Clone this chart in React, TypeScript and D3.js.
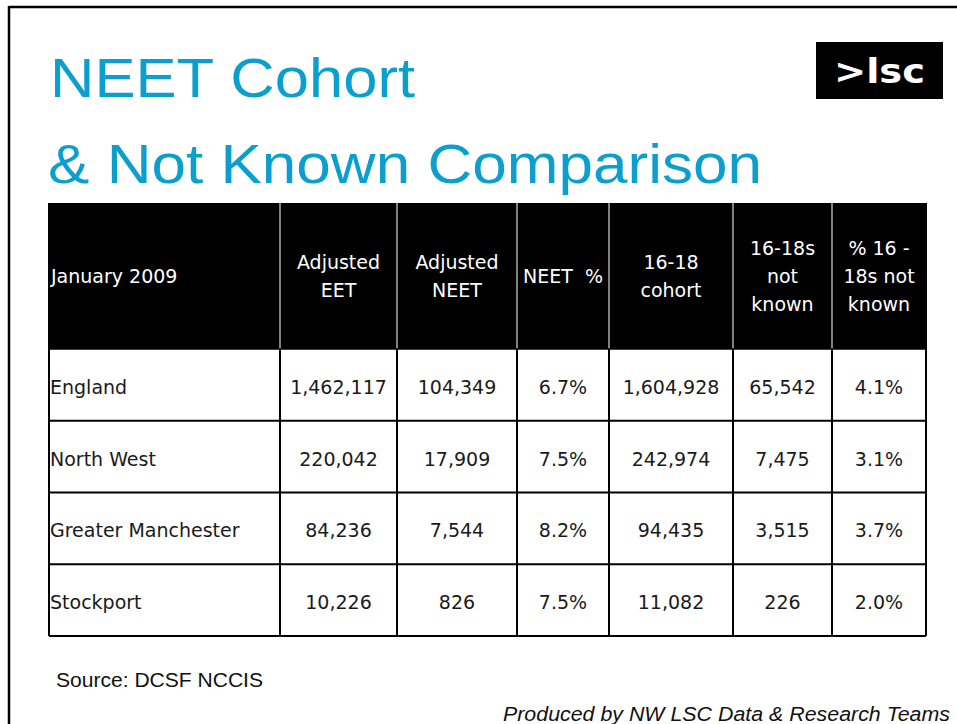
import React from "react";
import * as d3 from "d3";

const titleLines = ["NEET Cohort", "& Not Known Comparison"];
const logoText = ">lsc";
const headerLabels: string[][] = [
  ["January 2009"],
  ["Adjusted", "EET"],
  ["Adjusted", "NEET"],
  ["NEET  %"],
  ["16-18", "cohort"],
  ["16-18s", "not", "known"],
  ["% 16 -", "18s not", "known"],
];
const regions = ["England", "North West", "Greater Manchester", "Stockport"];
const adjustedEET = [1462117, 220042, 84236, 10226];
const adjustedNEET = [104349, 17909, 7544, 826];
const neetPct = [6.7, 7.5, 8.2, 7.5];
const cohort = [1604928, 242974, 94435, 11082];
const notKnown = [65542, 7475, 3515, 226];
const pctNotKnown = [4.1, 3.1, 3.7, 2.0];
const sourceText = "Source: DCSF NCCIS";
const producedText = "Produced by NW LSC Data & Research Teams";

const W = 957;
const H = 724;
const colEdges = [49, 280, 397, 517, 609, 733, 832, 926];
const tableTop = 203;
const headerBottom = 349;
const tableBottom = 636;
const BLUE = "#0a9fcf";
const FONT = "'DejaVu Sans', Verdana, sans-serif";
const TITLE_FONT = "'Liberation Sans', Arial, sans-serif";

export default function App() {
  const fmtInt = d3.format(",");
  const fmtPct = (v: number) => `${v.toFixed(1)}%`;

  const rowScale = d3
    .scaleBand<string>()
    .domain(regions)
    .range([headerBottom, tableBottom]);

  const columns: string[][] = regions.map((r, i) => [
    r,
    fmtInt(adjustedEET[i]),
    fmtInt(adjustedNEET[i]),
    fmtPct(neetPct[i]),
    fmtInt(cohort[i]),
    fmtInt(notKnown[i]),
    fmtPct(pctNotKnown[i]),
  ]);

  const colCenter = (c: number) => (colEdges[c] + colEdges[c + 1]) / 2;
  const headerMid = (tableTop + headerBottom) / 2;
  const lineH = 28;

  return (
    <svg
      width={W}
      height={H}
      style={{ position: "absolute", left: 0, top: 0, background: "#fff" }}
    >
      {/* frame */}
      <line x1={9} y1={7} x2={W} y2={7} stroke="#000" strokeWidth={2.5} />
      <line x1={9} y1={6} x2={9} y2={H} stroke="#000" strokeWidth={2.5} />

      {/* title */}
      <text
        x={50}
        y={97}
        fontFamily={TITLE_FONT}
        fontSize={55}
        fill={BLUE}
        textLength={365}
        lengthAdjust="spacingAndGlyphs"
      >
        {titleLines[0]}
      </text>
      <text
        x={48}
        y={183}
        fontFamily={TITLE_FONT}
        fontSize={55}
        fill={BLUE}
        textLength={714}
        lengthAdjust="spacingAndGlyphs"
      >
        {titleLines[1]}
      </text>

      {/* logo */}
      <rect x={816} y={42} width={127} height={57} fill="#000" />
      <text
        x={834}
        y={83}
        fontFamily={FONT}
        fontWeight="bold"
        fontSize={34}
        fill="#fff"
        textLength={91}
        lengthAdjust="spacingAndGlyphs"
      >
        {logoText}
      </text>

      {/* header */}
      <rect
        x={colEdges[0]}
        y={tableTop}
        width={colEdges[colEdges.length - 1] - colEdges[0]}
        height={headerBottom - tableTop}
        fill="#000"
      />
      {colEdges.slice(1, -1).map((x, i) => (
        <line
          key={"hv" + i}
          x1={x}
          x2={x}
          y1={tableTop}
          y2={headerBottom}
          stroke="#d8d8d8"
          strokeWidth={1.2}
        />
      ))}
      {headerLabels.map((lines, c) => {
        const n = lines.length;
        return lines.map((ln, k) => {
          const y = headerMid + (k - (n - 1) / 2) * lineH + 7;
          return (
            <text
              key={"h" + c + "-" + k}
              x={c === 0 ? colEdges[0] + 2 : colCenter(c)}
              y={y}
              textAnchor={c === 0 ? "start" : "middle"}
              fontFamily={FONT}
              fontSize={19}
              fill="#fff"
              style={{ whiteSpace: "pre" }}
            >
              {ln}
            </text>
          );
        });
      })}

      {/* body grid */}
      {regions.map((r) => (
        <line
          key={"hl" + r}
          x1={colEdges[0]}
          x2={colEdges[colEdges.length - 1]}
          y1={(rowScale(r) as number) + rowScale.bandwidth()}
          y2={(rowScale(r) as number) + rowScale.bandwidth()}
          stroke="#000"
          strokeWidth={2}
        />
      ))}
      {colEdges.map((x, i) => (
        <line
          key={"bv" + i}
          x1={x}
          x2={x}
          y1={i === 0 || i === colEdges.length - 1 ? tableTop : headerBottom}
          y2={tableBottom}
          stroke="#000"
          strokeWidth={2}
        />
      ))}
      <line
        x1={colEdges[0]}
        x2={colEdges[colEdges.length - 1]}
        y1={headerBottom}
        y2={headerBottom}
        stroke="#000"
        strokeWidth={1.5}
      />

      {/* body text */}
      {columns.map((cells, ri) => {
        const y = (rowScale(regions[ri]) as number) + rowScale.bandwidth() / 2 + 9;
        return cells.map((t, c) => (
          <text
            key={"b" + ri + "-" + c}
            x={c === 0 ? colEdges[0] + 1 : colCenter(c)}
            y={y}
            textAnchor={c === 0 ? "start" : "middle"}
            fontFamily={FONT}
            fontSize={19}
            fill="#1a1a1a"
          >
            {t}
          </text>
        ));
      })}

      {/* footers */}
      <text
        x={56}
        y={687}
        fontFamily={TITLE_FONT}
        fontSize={20}
        fill="#111"
        textLength={207}
        lengthAdjust="spacingAndGlyphs"
      >
        {sourceText}
      </text>
      <text
        x={503}
        y={721}
        fontFamily={TITLE_FONT}
        fontStyle="italic"
        fontSize={19.5}
        fill="#111"
        textLength={447}
        lengthAdjust="spacingAndGlyphs"
      >
        {producedText}
      </text>
    </svg>
  );
}
